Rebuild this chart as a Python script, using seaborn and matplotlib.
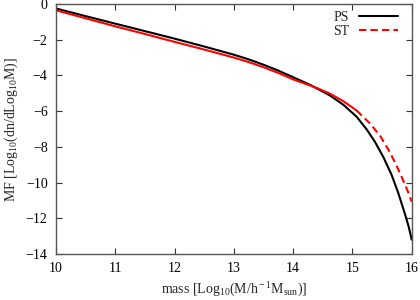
import numpy as np
import pandas as pd
import matplotlib
matplotlib.use("Agg")
import matplotlib.pyplot as plt
import seaborn as sns

# Press-Schechter mass function
ps_mass = [10.0, 10.5, 11.0, 11.5, 12.0, 12.5, 13.0, 13.25, 13.5, 13.75, 14.0, 14.3, 14.62,
           14.85, 15.07, 15.24, 15.38, 15.52, 15.66, 15.77, 15.89, 15.95, 16.0]
ps_mf = [-0.25, -0.68, -1.10, -1.52, -1.94, -2.38, -2.84, -3.10, -3.40, -3.73, -4.10, -4.55,
         -5.12, -5.65, -6.31, -7.02, -7.72, -8.56, -9.56, -10.55, -11.80, -12.48, -13.20]

# Sheth-Tormen mass function
st_mass = [10.0, 10.5, 11.0, 11.5, 12.0, 12.5, 13.0, 13.25, 13.5, 13.75, 14.0, 14.4, 14.62,
           14.85, 15.07, 15.30, 15.47, 15.61, 15.73, 15.83, 15.93, 16.0]
st_mf = [-0.35, -0.80, -1.25, -1.68, -2.12, -2.55, -3.00, -3.25, -3.54, -3.86, -4.22, -4.70,
         -5.02, -5.45, -5.96, -6.70, -7.40, -8.17, -8.95, -9.68, -10.45, -11.07]

ps_df = pd.DataFrame({"x": ps_mass, "y": ps_mf})
st_df = pd.DataFrame({"x": st_mass, "y": st_mf})
st_solid = st_df[st_df["x"] <= 15.07]
st_dash = st_df[st_df["x"] >= 15.07]

sns.set_style("ticks")
plt.rcParams["font.family"] = ["Liberation Serif", "DejaVu Serif"]
plt.rcParams["mathtext.fontset"] = "custom"
plt.rcParams["mathtext.rm"] = "Liberation Serif"
plt.rcParams["mathtext.it"] = "Liberation Serif:italic"

fig = plt.figure(figsize=(4.2, 3.0), dpi=100)
ax = fig.add_axes([56/420, 1-254/300, (411.7-56)/420, (254-4)/300])

sns.lineplot(data=ps_df, x="x", y="y", color="black", linewidth=1.5, ax=ax, label="PS")
sns.lineplot(data=st_dash, x="x", y="y", color="#ff0000", linewidth=1.5,
             dashes=(3.5, 2), ax=ax, label="ST")
sns.lineplot(data=st_solid, x="x", y="y", color="#ff0000", linewidth=1.5, ax=ax,
             label="_nolegend_")

ax.set_xlim(10, 16)
ax.set_ylim(-14, 0)
ax.set_xticks(range(10, 17))
ax.set_yticks(range(-14, 1, 2))
ax.tick_params(direction="in", top=True, right=True, length=4, width=0.8,
               labelsize=10, colors="#333333", labelcolor="black")
ax.tick_params(axis="x", pad=6)
ax.tick_params(axis="y", pad=6)
for s in ax.spines.values():
    s.set_color("#555555")
    s.set_linewidth(1.0)

ax.set_xlabel(r"mass [Log$_{\rm 10}$(M/h$^{\rm -1}$M$_{\rm sun}$)]", fontsize=10, labelpad=4)
ax.set_ylabel(r"MF [Log$_{\rm 10}$(dn/dLog$_{\rm 10}$M)]", fontsize=10, labelpad=4)

ax.legend(loc="upper right", frameon=False, markerfirst=False, fontsize=10,
          handlelength=2.8, handletextpad=0.7, borderaxespad=0.1,
          labelspacing=0.1, bbox_to_anchor=(0.981, 1.0))

fig.savefig("out.png", dpi=100)
